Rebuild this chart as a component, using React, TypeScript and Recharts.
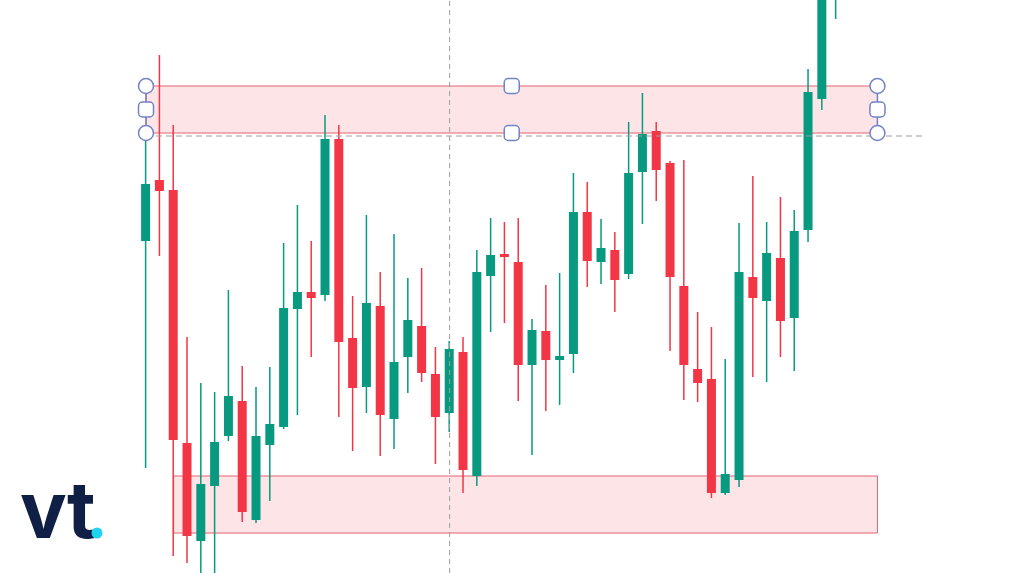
import { ComposedChart, Bar, XAxis, YAxis, ReferenceArea, ReferenceLine, ReferenceDot } from 'recharts';

// price values (one per candle)
const opens = [332, 393, 383, 130, 32, 87, 137, 172, 53, 128, 146, 264, 281, 278, 434, 235, 186, 267, 154, 216, 247, 199, 160, 221, 97, 297, 319, 311, 208, 242, 213, 219, 361, 311, 323, 299, 401, 442, 410, 287, 204, 194, 80, 93, 296, 272, 315, 255, 343, 474, 613];
const closes = [389, 382, 133, 37, 89, 131, 177, 61, 137, 149, 265, 281, 275, 434, 231, 185, 270, 158, 211, 253, 200, 156, 224, 103, 301, 318, 316, 208, 243, 213, 217, 361, 312, 325, 293, 400, 439, 403, 296, 208, 190, 80, 99, 301, 275, 320, 252, 342, 481, 633, 673];
const highs = [443, 518, 448, 236, 190, 181, 283, 207, 186, 206, 330, 368, 332, 458, 448, 277, 358, 301, 339, 295, 305, 226, 232, 236, 323, 355, 351, 355, 254, 288, 300, 400, 391, 354, 341, 451, 480, 451, 412, 413, 261, 246, 214, 350, 397, 351, 376, 363, 504, 653, 693];
const lows = [105, 317, 17, 10, -17, -17, 132, 51, 50, 72, 144, 158, 216, 272, 156, 122, 160, 117, 124, 180, 191, 109, 141, 80, 87, 241, 250, 172, 118, 162, 168, 200, 286, 289, 261, 294, 349, 372, 222, 173, 171, 75, 78, 86, 196, 191, 216, 202, 331, 463, 554];

const topZone = [440, 487];
const bottomZone = [40, 97];
const zoneStart = 0;
const bottomZoneStart = 2;
const zoneEnd = 53;
const crossIndex = 22;
const crossPrice = 437;
const crossEnd = 56.4;

const candles = opens.map((o, i) => ({ i, open: o, close: closes[i], high: highs[i], low: lows[i] }));

const GREEN = '#089981';
const RED = '#f23645';
const HANDLE = '#7482c6';
const ZONE_LINE = '#e2636e';

const Candle = (props: any) => {
  const { x, y, width, height, payload } = props;
  const { open, close, high, low } = payload;
  const color = close >= open ? GREEN : RED;
  const py = (v: number) => y + ((high - v) / (high - low)) * height;
  const cx = x + width / 2;
  const top = py(Math.max(open, close));
  const bot = py(Math.min(open, close));
  return (
    <g>
      <line x1={cx} x2={cx} y1={py(high)} y2={py(low)} stroke={color} strokeWidth={1.5} />
      <rect x={x} y={top} width={width} height={Math.max(bot - top, 2)} fill={color} />
    </g>
  );
};

const circleHandle = (p: any) => (
  <circle cx={p.cx} cy={p.cy} r={7.5} fill="#fff" stroke={HANDLE} strokeWidth={1.5} />
);
const squareHandle = (p: any) => (
  <rect x={p.cx - 7.5} y={p.cy - 7.5} width={15} height={15} rx={4} fill="#fff" stroke={HANDLE} strokeWidth={1.5} />
);

export default function App() {
  const midY = (topZone[0] + topZone[1]) / 2;
  const midX = (zoneStart + zoneEnd) / 2;
  return (
    <div style={{ position: 'absolute', left: 0, top: 0, width: 1024, height: 573, background: '#fff', overflow: 'hidden' }}>
      <ComposedChart width={1024} height={573} data={candles} margin={{ top: 0, right: 0, bottom: 0, left: 0 }}>
        <XAxis dataKey="i" type="number" domain={[-10.58, 63.62]} hide allowDataOverflow />
        <YAxis type="number" domain={[0, 573]} hide allowDataOverflow />
        <ReferenceLine x={crossIndex} stroke="#9e9e9e" strokeDasharray="5 4" />
        <ReferenceLine segment={[{ x: zoneStart, y: crossPrice }, { x: crossEnd, y: crossPrice }]} stroke="#9e9e9e" strokeDasharray="6 4" />
        <Bar dataKey={(d: any) => [d.low, d.high]} barSize={9} shape={Candle} isAnimationActive={false} />
        <ReferenceArea x1={zoneStart} x2={zoneEnd} y1={topZone[0]} y2={topZone[1]} fill={RED} fillOpacity={0.13} stroke={ZONE_LINE} strokeWidth={1} />
        <ReferenceArea x1={bottomZoneStart} x2={zoneEnd} y1={bottomZone[0]} y2={bottomZone[1]} fill={RED} fillOpacity={0.13} stroke={ZONE_LINE} strokeWidth={1} />
        <ReferenceLine segment={[{ x: zoneStart, y: topZone[0] }, { x: zoneStart, y: topZone[1] }]} stroke={HANDLE} strokeWidth={1.5} />
        <ReferenceLine segment={[{ x: zoneEnd, y: topZone[0] }, { x: zoneEnd, y: topZone[1] }]} stroke={HANDLE} strokeWidth={1.5} />
        <ReferenceDot x={zoneStart} y={topZone[1]} shape={circleHandle} />
        <ReferenceDot x={zoneStart} y={midY} shape={squareHandle} />
        <ReferenceDot x={zoneStart} y={topZone[0]} shape={circleHandle} />
        <ReferenceDot x={zoneEnd} y={topZone[1]} shape={circleHandle} />
        <ReferenceDot x={zoneEnd} y={midY} shape={squareHandle} />
        <ReferenceDot x={zoneEnd} y={topZone[0]} shape={circleHandle} />
        <ReferenceDot x={midX} y={topZone[1]} shape={squareHandle} />
        <ReferenceDot x={midX} y={topZone[0]} shape={squareHandle} />
      </ComposedChart>
      <svg width={160} height={110} style={{ position: 'absolute', left: 0, top: 450 }}>
        <text x={20} y={88} fontFamily="Inter, sans-serif" fontWeight={700} fontSize={78} fill="#0f1f45" letterSpacing={-1}>vt</text>
        <circle cx={97} cy={83} r={5.5} fill="#1fd3ef" />
      </svg>
    </div>
  );
}
